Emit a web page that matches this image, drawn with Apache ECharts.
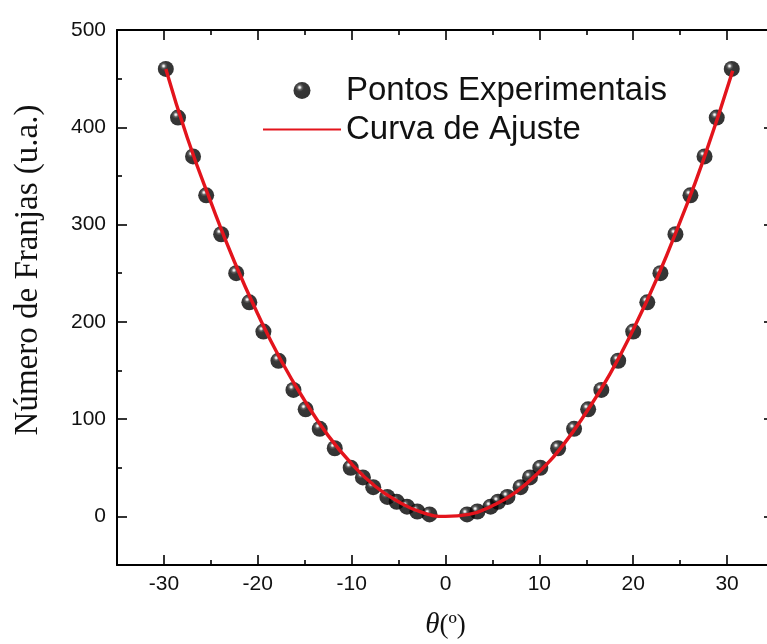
<!DOCTYPE html>
<html>
<head>
<meta charset="utf-8">
<script src="https://cdn.jsdelivr.net/npm/echarts@6/dist/echarts.min.js"></script>
<style>
  html, body { margin: 0; padding: 0; background: #fff; }
  #chart { width: 767px; height: 644px; }
</style>
</head>
<body>
<div id="chart"></div>
<script>
// Measured fringe counts versus incidence angle (degrees)
const thetaPoints = [
  -29.8, -28.5, -26.9, -25.5, -23.9, -22.3, -20.9, -19.4, -17.8, -16.2, -14.9,
  -13.4, -11.8, -10.1, -8.8, -7.7, -6.2, -5.2, -4.1, -3.0, -1.7,
  2.3, 3.4, 4.8, 5.6, 6.6, 8.0, 9.0, 10.1, 12.0, 13.7, 15.2,
  16.6, 18.4, 20.0, 21.5, 22.9, 24.5, 26.1, 27.6, 28.9, 30.5
];
const fringePoints = [
  460, 410, 370, 330, 290, 250, 220, 190, 160, 130, 110,
  90, 70, 50, 40, 30, 20, 15, 10, 5, 2,
  2, 5, 10, 15, 20, 30, 40, 50, 70, 90, 110,
  130, 160, 190, 220, 250, 290, 330, 370, 410, 460
];

// Fitted curve, sampled along the angle range
const fitTheta = [
  -29.8, -27.5, -25, -22.5, -20, -17.5, -15, -12.5, -10, -7.5, -5, -2.5,
  0, 2.5, 5, 7.5, 10, 12.5, 15, 17.5, 20, 22.5, 25, 27.5, 30.6
];
const fitFringes = [
  460, 389, 323, 262, 208, 160, 119, 83, 54, 31, 15, 4,
  0, 2, 11, 25, 46, 73, 107, 146, 192, 244, 303, 367, 458
];

// Axis tick positions
const xTickLabels = [-30, -20, -10, 0, 10, 20, 30];
const xMinorTicks = [-25, -15, -5, 5, 15, 25];
const yTickLabels = [0, 100, 200, 300, 400, 500];
const yMinorTicks = [-50, 50, 150, 250, 350, 450];

const seriesNames = ['Pontos Experimentais', 'Curva de Ajuste'];

const INK = '#111';
const sansFont = '"Liberation Sans", Arial, sans-serif';
const serifFont = '"Liberation Serif", "Times New Roman", serif';

// Glossy black sphere used for the measured points
const sphereFill = {
  type: 'radial', x: 0.36, y: 0.32, r: 0.7,
  colorStops: [
    { offset: 0, color: '#ffffff' },
    { offset: 0.07, color: '#e0e0e0' },
    { offset: 0.2, color: '#3a3a3a' },
    { offset: 0.36, color: '#050505' },
    { offset: 1, color: '#000000' }
  ]
};

function majorAxis(position, min, max, ticks, showLabels, extra) {
  const ax = {
    type: 'value', position: position, min: min, max: max,
    axisLine: { show: true, onZero: false, lineStyle: { color: '#000', width: 2 } },
    axisTick: { show: true, inside: true, length: 10, customValues: ticks,
      lineStyle: { color: '#000', width: 1.6 } },
    axisLabel: { show: showLabels, customValues: ticks, color: INK,
      fontFamily: sansFont, fontSize: 21 },
    splitLine: { show: false }
  };
  return Object.assign(ax, extra || {});
}

function minorAxis(position, min, max, ticks) {
  return {
    type: 'value', position: position, min: min, max: max,
    axisLine: { show: false, onZero: false },
    axisTick: { show: true, inside: true, length: 5, customValues: ticks,
      lineStyle: { color: '#000', width: 1.6 } },
    axisLabel: { show: false },
    splitLine: { show: false }
  };
}

const xBottom = majorAxis('bottom', -35, 35, xTickLabels, true, {
  name: '{i|θ}{n|(º)}',
  nameLocation: 'middle',
  nameGap: 46,
  nameTextStyle: {
    rich: {
      i: { fontFamily: serifFont, fontStyle: 'italic', fontSize: 29, color: INK },
      n: { fontFamily: serifFont, fontSize: 27, color: INK }
    }
  }
});
xBottom.axisLabel.margin = 9;

const yLeft = majorAxis('left', -50, 500, yTickLabels, true);
yLeft.axisLabel.margin = 11;

const chart = echarts.init(document.getElementById('chart'), null, { renderer: 'canvas' });

chart.setOption({
  animation: false,
  backgroundColor: '#ffffff',
  // the frame runs a little past the right edge of the canvas
  grid: {
    left: 117, top: 30, width: 657, height: 535,
    containLabel: false, outerBoundsMode: 'none'
  },
  legend: {
    data: [
      { name: seriesNames[0] },
      { name: seriesNames[1], itemStyle: { opacity: 0 } }
    ],
    orient: 'vertical',
    left: 262,
    top: 74,
    padding: 0,
    itemWidth: 78,
    itemHeight: 17,
    itemGap: 6,
    selectedMode: false,
    textStyle: { fontFamily: sansFont, fontSize: 33, color: INK }
  },
  xAxis: [
    xBottom,
    minorAxis('bottom', -35, 35, xMinorTicks),
    majorAxis('top', -35, 35, xTickLabels, false),
    minorAxis('top', -35, 35, xMinorTicks)
  ],
  yAxis: [
    yLeft,
    minorAxis('left', -50, 500, yMinorTicks),
    majorAxis('right', -50, 500, yTickLabels, false),
    minorAxis('right', -50, 500, yMinorTicks)
  ],
  graphic: [{
    type: 'text',
    x: 28, y: 270,
    rotation: Math.PI / 2,
    style: {
      text: 'Número de Franjas (u.a.)',
      font: '33px ' + serifFont,
      fill: INK,
      textAlign: 'center',
      textVerticalAlign: 'middle'
    }
  }],
  series: [
    {
      name: seriesNames[0],
      type: 'scatter',
      xAxisIndex: 0, yAxisIndex: 0,
      symbol: 'circle',
      symbolSize: 16,
      itemStyle: { color: sphereFill },
      emphasis: { disabled: true },
      z: 2,
      data: thetaPoints.map((t, i) => [t, fringePoints[i]])
    },
    {
      name: seriesNames[1],
      type: 'line',
      xAxisIndex: 0, yAxisIndex: 0,
      symbol: 'none',
      smooth: true,
      lineStyle: { color: '#e3141c', width: 3.4 },
      itemStyle: { color: '#e3141c' },
      emphasis: { disabled: true },
      z: 3,
      data: fitTheta.map((t, i) => [t, fitFringes[i]])
    }
  ]
});
</script>
</body>
</html>
